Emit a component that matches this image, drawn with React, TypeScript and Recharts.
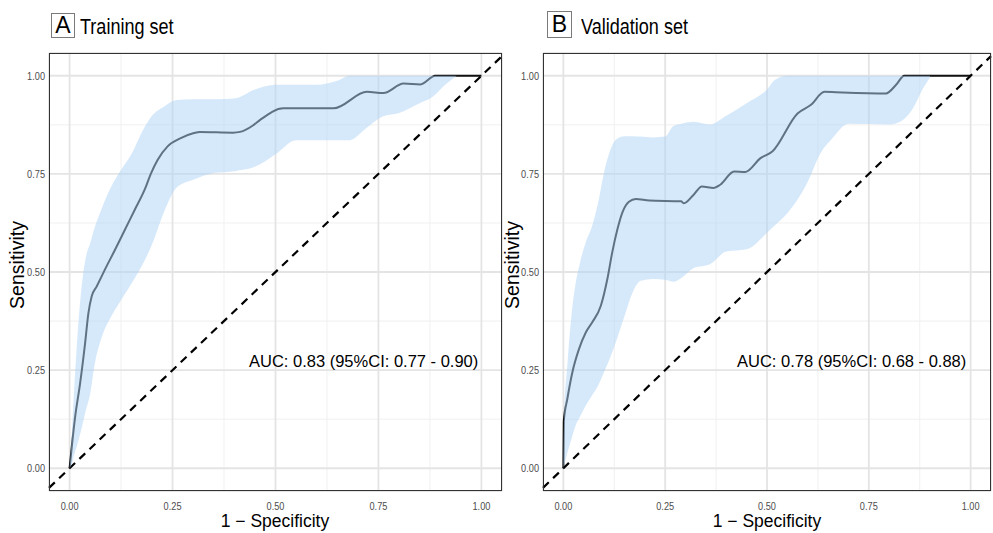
import React from "react";
import {
  ComposedChart,
  Line,
  Area,
  XAxis,
  YAxis,
  CartesianGrid,
  ReferenceLine,
} from "recharts";

// axis ticks
const majorTicks = [0, 0.25, 0.5, 0.75, 1];
const minorTicks = [0.125, 0.375, 0.625, 0.875];

// Training set ROC curve (1 - specificity, sensitivity)
const trainFpr = [0, 0.0136, 0.0256, 0.0377, 0.0457, 0.0537, 0.0657, 0.0857, 0.11, 0.134, 0.158, 0.182, 0.198, 0.214, 0.238, 0.27, 0.302, 0.316, 0.397, 0.414, 0.446, 0.462, 0.519, 0.641, 0.722, 0.762, 0.811, 0.852, 0.888, 1];
const trainTpr = [0, 0.132, 0.217, 0.319, 0.395, 0.438, 0.463, 0.506, 0.556, 0.607, 0.658, 0.709, 0.752, 0.786, 0.82, 0.841, 0.854, 0.857, 0.855, 0.857, 0.874, 0.887, 0.917, 0.917, 0.959, 0.956, 0.98, 0.978, 1, 1];

// Training set confidence band
const trainBandX = [0, 0.005, 0.01, 0.02, 0.03, 0.04, 0.05, 0.06, 0.08, 0.1, 0.12, 0.15, 0.18, 0.2, 0.23, 0.26, 0.3, 0.35, 0.4, 0.45, 0.5, 0.55, 0.6, 0.65, 0.68, 0.72, 0.76, 0.8, 0.85, 0.88, 0.91, 0.94];
const trainBandLow = [0, 0.01, 0.03, 0.065, 0.105, 0.15, 0.19, 0.26, 0.34, 0.385, 0.42, 0.47, 0.525, 0.57, 0.655, 0.715, 0.735, 0.752, 0.757, 0.768, 0.8, 0.836, 0.836, 0.836, 0.836, 0.866, 0.896, 0.905, 0.93, 0.945, 0.975, 1];
const trainBandHigh = [0, 0.08, 0.18, 0.35, 0.47, 0.54, 0.573, 0.61, 0.667, 0.715, 0.752, 0.8, 0.865, 0.898, 0.922, 0.938, 0.94, 0.94, 0.942, 0.965, 0.977, 0.977, 0.977, 0.987, 1, 1, 1, 1, 1, 1, 1, 1];

// Validation set ROC curve
const validFpr = [0, 0.001, 0.0098, 0.022, 0.0385, 0.055, 0.071, 0.092, 0.108, 0.12, 0.133, 0.145, 0.161, 0.178, 0.211, 0.289, 0.296, 0.32, 0.34, 0.369, 0.386, 0.419, 0.447, 0.484, 0.513, 0.575, 0.608, 0.641, 0.669, 0.792, 0.817, 0.837, 1];
const validTpr = [0, 0.119, 0.177, 0.244, 0.304, 0.346, 0.372, 0.414, 0.482, 0.55, 0.61, 0.652, 0.679, 0.686, 0.682, 0.68, 0.675, 0.697, 0.718, 0.714, 0.723, 0.756, 0.755, 0.79, 0.807, 0.904, 0.926, 0.959, 0.958, 0.955, 0.977, 1, 1];

// Validation set confidence band
const validBandX = [0, 0.002, 0.01, 0.02, 0.03, 0.04, 0.055, 0.07, 0.085, 0.1, 0.115, 0.13, 0.15, 0.17, 0.19, 0.22, 0.25, 0.27, 0.29, 0.32, 0.36, 0.4, 0.45, 0.5, 0.52, 0.55, 0.6, 0.63, 0.66, 0.7, 0.75, 0.8, 0.83, 0.86, 0.88, 0.9];
const validBandLow = [0, 0.008, 0.04, 0.075, 0.109, 0.13, 0.16, 0.185, 0.21, 0.245, 0.282, 0.325, 0.387, 0.448, 0.478, 0.482, 0.48, 0.475, 0.485, 0.51, 0.52, 0.552, 0.558, 0.6, 0.62, 0.65, 0.73, 0.8, 0.84, 0.878, 0.877, 0.876, 0.885, 0.92, 0.962, 0.995];
const validBandHigh = [0, 0.13, 0.265, 0.39, 0.47, 0.52, 0.576, 0.615, 0.675, 0.754, 0.81, 0.838, 0.846, 0.846, 0.845, 0.843, 0.845, 0.872, 0.878, 0.883, 0.876, 0.898, 0.93, 0.965, 0.99, 1, 1, 1, 1, 1, 1, 1, 1, 1, 1, 1];

const SANS = "'Liberation Sans', Arial, sans-serif";
const SQUEEZE = 0.8; // the original uses a narrow face for ticks and titles

const X_DOMAIN = [-0.05, 1.05];
const Y_DOMAIN = [-0.058, 1.058];

// narrow tick labels: squeeze Liberation Sans horizontally around the anchor
const makeTick = (dy: string) => (props: any) => {
  const { x, y, payload, textAnchor } = props;
  return (
    <g transform={`translate(${x},${y}) scale(${SQUEEZE},1)`}>
      <text
        x={0}
        y={0}
        dy={dy}
        textAnchor={textAnchor}
        fill="#4d4d4d"
        fontSize={11.5}
        fontFamily={SANS}
      >
        {Number(payload.value).toFixed(2)}
      </text>
    </g>
  );
};
const XTick = makeTick("0.71em");
const YTick = makeTick("0.355em");

type PanelProps = {
  left: number;
  width: number;
  yAxisWidth: number;
  rightMargin: number;
  letter: string;
  title: string;
  auc: string;
  fpr: number[];
  tpr: number[];
  bandX: number[];
  bandLow: number[];
  bandHigh: number[];
  boxLeft: number;
  boxTop: number;
  boxW: number;
  boxH: number;
  titleLeft: number;
  aucLeft: number;
  xTitleCenter: number;
  yTitleCenter: number;
};

const PLOT_TOP = 53;
const PLOT_BOTTOM = 491;
const H = 533;

const Panel = (p: PanelProps) => {
  const roc = p.fpr.map((x, i) => ({ x, y: p.tpr[i] }));
  const band = p.bandX.map((x, i) => ({ x, range: [p.bandLow[i], p.bandHigh[i]] }));
  const plotLeft = p.left + p.yAxisWidth;
  const plotRight = p.left + p.width - p.rightMargin;

  return (
    <>
      <div style={{ position: "absolute", left: p.left, top: 0, width: p.width, height: H }}>
        <ComposedChart
          width={p.width}
          height={H}
          margin={{ top: PLOT_TOP, right: p.rightMargin, left: 0, bottom: 0 }}
        >
          <XAxis
            dataKey="x"
            type="number"
            domain={X_DOMAIN}
            allowDataOverflow
            ticks={majorTicks}
            interval={0}
            height={H - PLOT_BOTTOM}
            axisLine={false}
            tickLine={false}
            tickSize={6}
            tickMargin={5}
            tick={XTick}
          />
          <YAxis
            type="number"
            domain={Y_DOMAIN}
            allowDataOverflow
            ticks={majorTicks}
            interval={0}
            width={p.yAxisWidth}
            axisLine={false}
            tickLine={false}
            tickSize={2}
            tickMargin={2}
            tick={YTick}
          />
          <XAxis xAxisId="minor" dataKey="x" type="number" domain={X_DOMAIN} allowDataOverflow ticks={minorTicks} interval={0} hide />
          <YAxis yAxisId="minor" type="number" domain={Y_DOMAIN} allowDataOverflow ticks={minorTicks} interval={0} hide />
          <CartesianGrid xAxisId="minor" yAxisId="minor" stroke="#eeeeee" strokeWidth={0.9} />
          <CartesianGrid stroke="#e4e4e4" strokeWidth={1.8} />
          <Line
            data={roc}
            dataKey="y"
            type="monotone"
            stroke="#111111"
            strokeWidth={2}
            dot={false}
            activeDot={false}
            isAnimationActive={false}
          />
          <Area
            data={band}
            dataKey="range"
            type="monotone"
            stroke="none"
            fill="#add3f7"
            fillOpacity={0.5}
            isAnimationActive={false}
            zIndex={500}
          />
          <ReferenceLine
            segment={[
              { x: -0.05, y: -0.05 },
              { x: 1.05, y: 1.05 },
            ]}
            stroke="#000000"
            strokeWidth={2.2}
            strokeDasharray="8 6"
          />
        </ComposedChart>
      </div>
      {/* panel border */}
      <div
        style={{
          position: "absolute",
          left: plotLeft,
          top: PLOT_TOP,
          width: plotRight - plotLeft,
          height: PLOT_BOTTOM - PLOT_TOP,
          border: "1px solid #333333",
          boxSizing: "border-box",
          pointerEvents: "none",
        }}
      />
      {/* tag box */}
      <div
        style={{
          position: "absolute",
          left: p.boxLeft,
          top: p.boxTop,
          width: p.boxW,
          height: p.boxH,
          border: "1px solid #7a7a7a",
          boxSizing: "border-box",
          display: "flex",
          alignItems: "center",
          justifyContent: "center",
          fontFamily: SANS,
          fontSize: 23,
          lineHeight: 1,
          color: "#000",
        }}
      >
        {p.letter}
      </div>
      <div
        style={{
          position: "absolute",
          left: p.titleLeft,
          top: 16,
          fontFamily: SANS,
          fontSize: 22,
          lineHeight: 1,
          color: "#000",
          whiteSpace: "nowrap",
          transform: "scaleX(0.82)",
          transformOrigin: "left center",
        }}
      >
        {p.title}
      </div>
      <div
        style={{
          position: "absolute",
          left: p.aucLeft,
          top: 353,
          fontFamily: SANS,
          fontSize: 16.5,
          lineHeight: 1,
          color: "#000",
          whiteSpace: "nowrap",
        }}
      >
        {p.auc}
      </div>
      <div
        style={{
          position: "absolute",
          left: p.xTitleCenter,
          top: 514.5,
          transform: "translateX(-50%)",
          fontFamily: SANS,
          fontSize: 17.5,
          lineHeight: 0.7,
          color: "#000",
          whiteSpace: "nowrap",
        }}
      >
        1 − Specificity
      </div>
      <div
        style={{
          position: "absolute",
          left: p.yTitleCenter,
          top: 265,
          transform: "translate(-50%, -50%) rotate(-90deg)",
          fontFamily: SANS,
          fontSize: 19.5,
          lineHeight: 1,
          color: "#000",
          whiteSpace: "nowrap",
        }}
      >
        Sensitivity
      </div>
    </>
  );
};

export default function App() {
  return (
    <div
      style={{
        position: "absolute",
        left: 0,
        top: 0,
        width: 993,
        height: 533,
        background: "#ffffff",
        overflow: "hidden",
      }}
    >
      <Panel
        left={0}
        width={505}
        yAxisWidth={49}
        rightMargin={3}
        letter="A"
        title="Training set"
        auc="AUC: 0.83 (95%CI: 0.77 - 0.90)"
        fpr={trainFpr}
        tpr={trainTpr}
        bandX={trainBandX}
        bandLow={trainBandLow}
        bandHigh={trainBandHigh}
        boxLeft={51}
        boxTop={13}
        boxW={24}
        boxH={25}
        titleLeft={80}
        aucLeft={249}
        xTitleCenter={275}
        yTitleCenter={17.5}
      />
      <Panel
        left={495}
        width={498}
        yAxisWidth={48}
        rightMargin={2}
        letter="B"
        title="Validation set"
        auc="AUC: 0.78 (95%CI: 0.68 - 0.88)"
        fpr={validFpr}
        tpr={validTpr}
        bandX={validBandX}
        bandLow={validBandLow}
        bandHigh={validBandHigh}
        boxLeft={547}
        boxTop={11}
        boxW={25}
        boxH={27}
        titleLeft={581}
        aucLeft={737}
        xTitleCenter={767}
        yTitleCenter={512.5}
      />
    </div>
  );
}
